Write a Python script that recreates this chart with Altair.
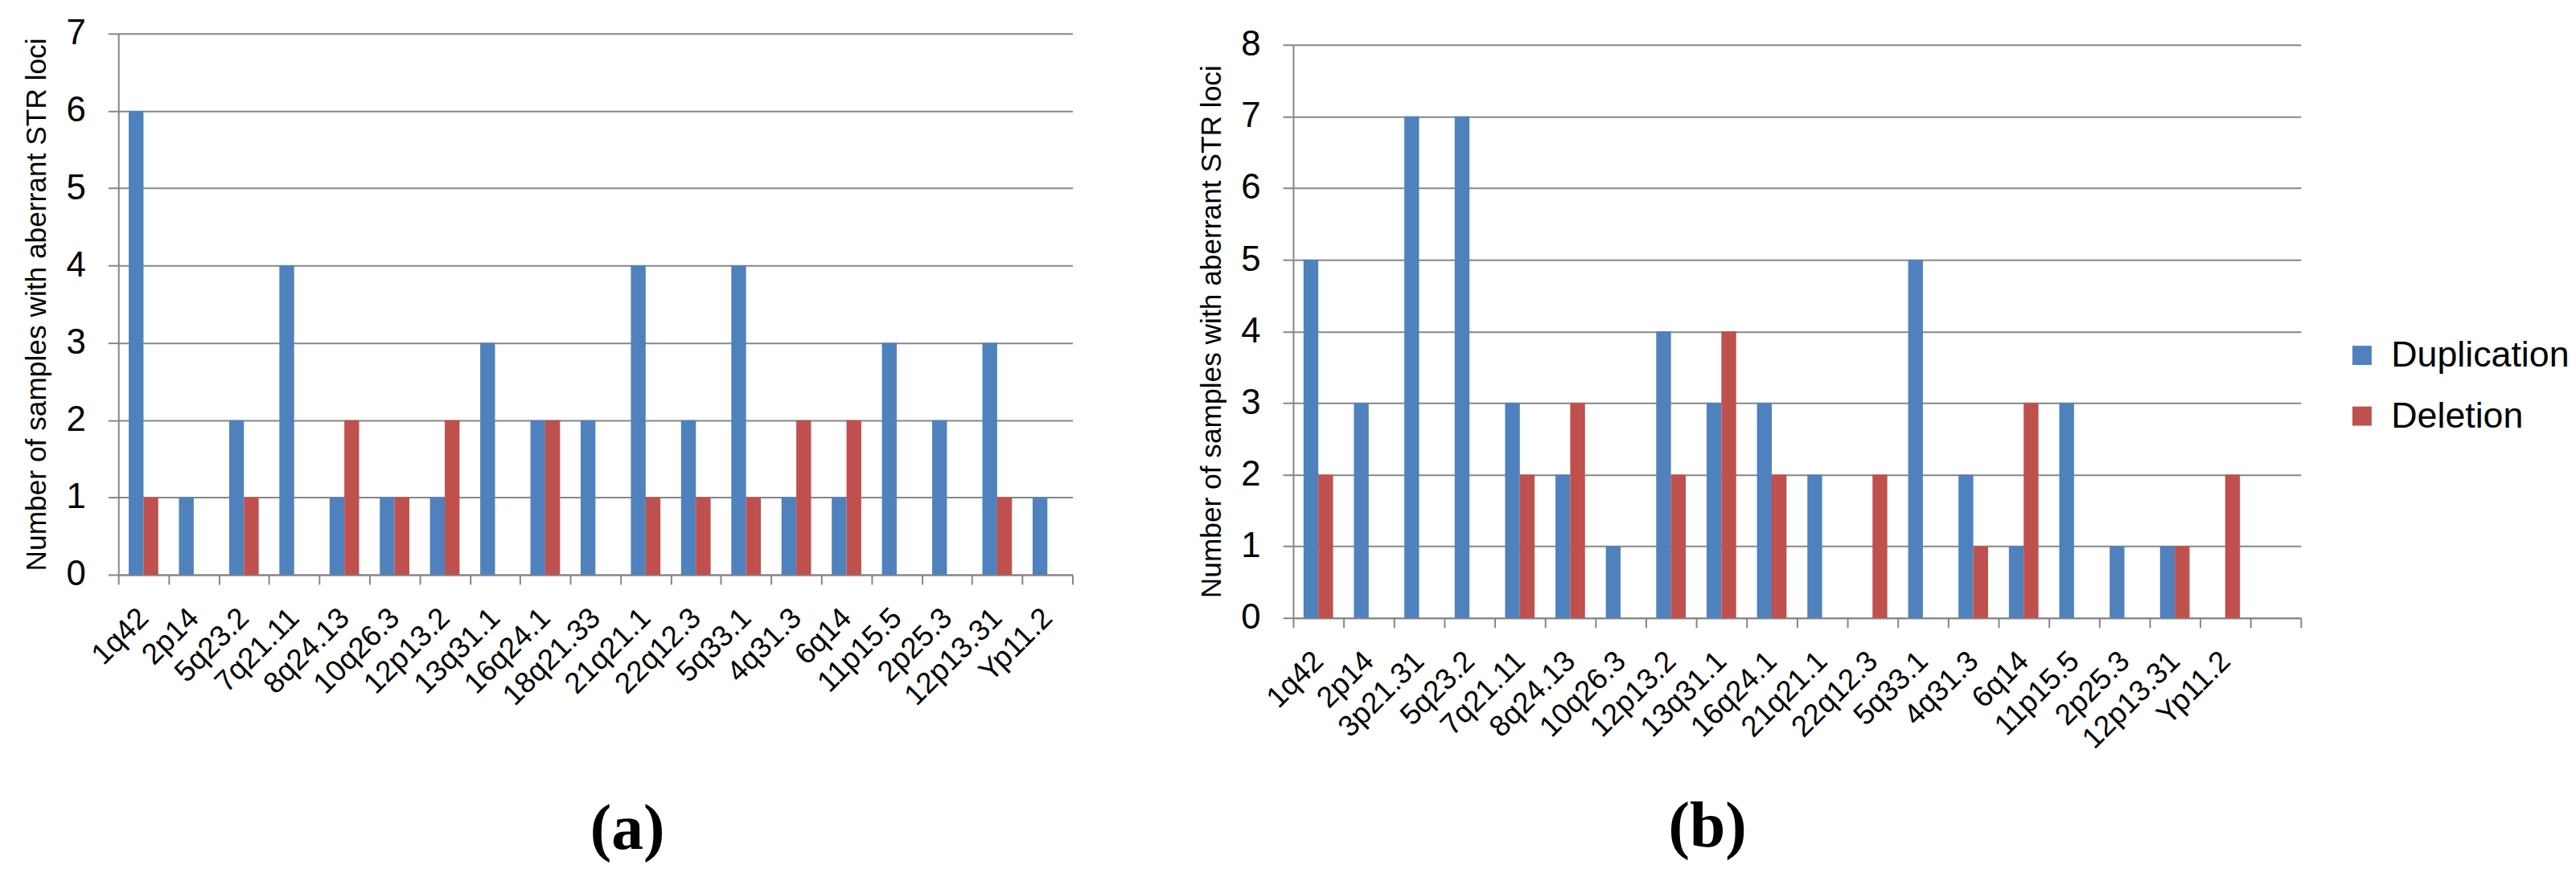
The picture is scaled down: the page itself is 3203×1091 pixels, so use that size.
import altair as alt
import pandas as pd

# ---------- data ----------
series = ["Duplication", "Deletion"]
colors = ["#4F81BD", "#C0504D"]

loci_a = ["1q42", "2p14", "5q23.2", "7q21.11", "8q24.13", "10q26.3", "12p13.2",
          "13q31.1", "16q24.1", "18q21.33", "21q21.1", "22q12.3", "5q33.1",
          "4q31.3", "6q14", "11p15.5", "2p25.3", "12p13.31", "Yp11.2"]
dup_a = [6, 1, 2, 4, 1, 1, 1, 3, 2, 2, 4, 2, 4, 1, 1, 3, 2, 3, 1]
del_a = [1, 0, 1, 0, 2, 1, 2, 0, 2, 0, 1, 1, 1, 2, 2, 0, 0, 1, 0]

loci_b = ["1q42", "2p14", "3p21.31", "5q23.2", "7q21.11", "8q24.13", "10q26.3",
          "12p13.2", "13q31.1", "16q24.1", "21q21.1", "22q12.3", "5q33.1",
          "4q31.3", "6q14", "11p15.5", "2p25.3", "12p13.31", "Yp11.2"]
dup_b = [5, 3, 7, 7, 3, 2, 1, 4, 3, 3, 2, 0, 5, 2, 1, 3, 1, 1, 0]
del_b = [2, 0, 0, 0, 2, 3, 0, 2, 4, 2, 0, 2, 0, 1, 3, 0, 0, 1, 2]

y_title = "Number of samples with aberrant STR loci"
GRAY = "#868686"
SANS = "Liberation Sans"


def to_long(loci, dup, dele):
    rows = []
    for c, d, e in zip(loci, dup, dele):
        rows.append({"locus": c, "type": "Duplication", "n": d})
        rows.append({"locus": c, "type": "Deletion", "n": e})
    return pd.DataFrame(rows)


def panel(df, domain, ymax, width, height, yrange, label, title_dx, title_offset, legend):
    return alt.Chart(df).mark_bar().encode(
        x=alt.X("locus:N", sort=domain,
                scale=alt.Scale(domain=domain, paddingInner=0, paddingOuter=0),
                axis=alt.Axis(title=None, labelAngle=-45, labelAlign="right",
                              labelBaseline="middle", labelFontSize=37, labelFont=SANS,
                              labelColor="black", labelPadding=36, tickSize=12,
                              tickBand="extent", grid=False, domainColor=GRAY,
                              tickColor=GRAY, domainWidth=2, tickWidth=2,
                              labelOverlap=False)),
        xOffset=alt.XOffset("type:N",
                            scale=alt.Scale(domain=series, paddingInner=0, paddingOuter=0.7)),
        y=alt.Y("n:Q",
                scale=alt.Scale(domain=[0, ymax], range=yrange, nice=False, zero=True),
                axis=alt.Axis(title=y_title, values=list(range(ymax + 1)), format="d",
                              titleFont=SANS, titleFontSize=35.5, titleFontWeight="normal",
                              titleColor="black", titlePadding=19,
                              labelFont=SANS, labelFontSize=44, labelColor="black",
                              labelPadding=28, tickSize=13, tickColor=GRAY, tickWidth=2,
                              domainColor=GRAY, domainWidth=2, grid=True,
                              gridColor=GRAY, gridWidth=2)),
        color=alt.Color("type:N", scale=alt.Scale(domain=series, range=colors),
                        sort=series, legend=legend),
    ).properties(
        width=width, height=height,
        title=alt.TitleParams(label, orient="bottom", anchor="middle", frame="group",
                              font="Liberation Serif", fontSize=80, fontWeight="bold",
                              color="black", dx=title_dx, offset=title_offset),
    )


df_a = to_long(loci_a, dup_a, del_a)
df_b = to_long(loci_b, dup_b, del_b)

chart_a = panel(df_a, loci_a, 7, 1193, 677, [677, 0], "(a)", 40, 110, None)

legend_b = alt.Legend(orient="none", legendX=1314, legendY=380, title=None,
                      labelFont=SANS, labelFontSize=45, labelColor="black",
                      labelLimit=500,
                      symbolType="square", symbolSize=576, symbolStrokeWidth=0,
                      rowPadding=30, labelOffset=14, padding=0)
chart_b = panel(df_b, loci_b + [""], 8, 1260, 731, [731, 14], "(b)", -112, 53, legend_b)

chart = alt.hconcat(chart_a, chart_b, spacing=276, bounds="flush").resolve_legend(
    color="independent"
).configure_view(stroke=None).properties(
    padding={"left": 20, "top": 9, "right": 0, "bottom": 0}
)

chart.save("out.html", embed_options={"renderer": "svg", "actions": False})
